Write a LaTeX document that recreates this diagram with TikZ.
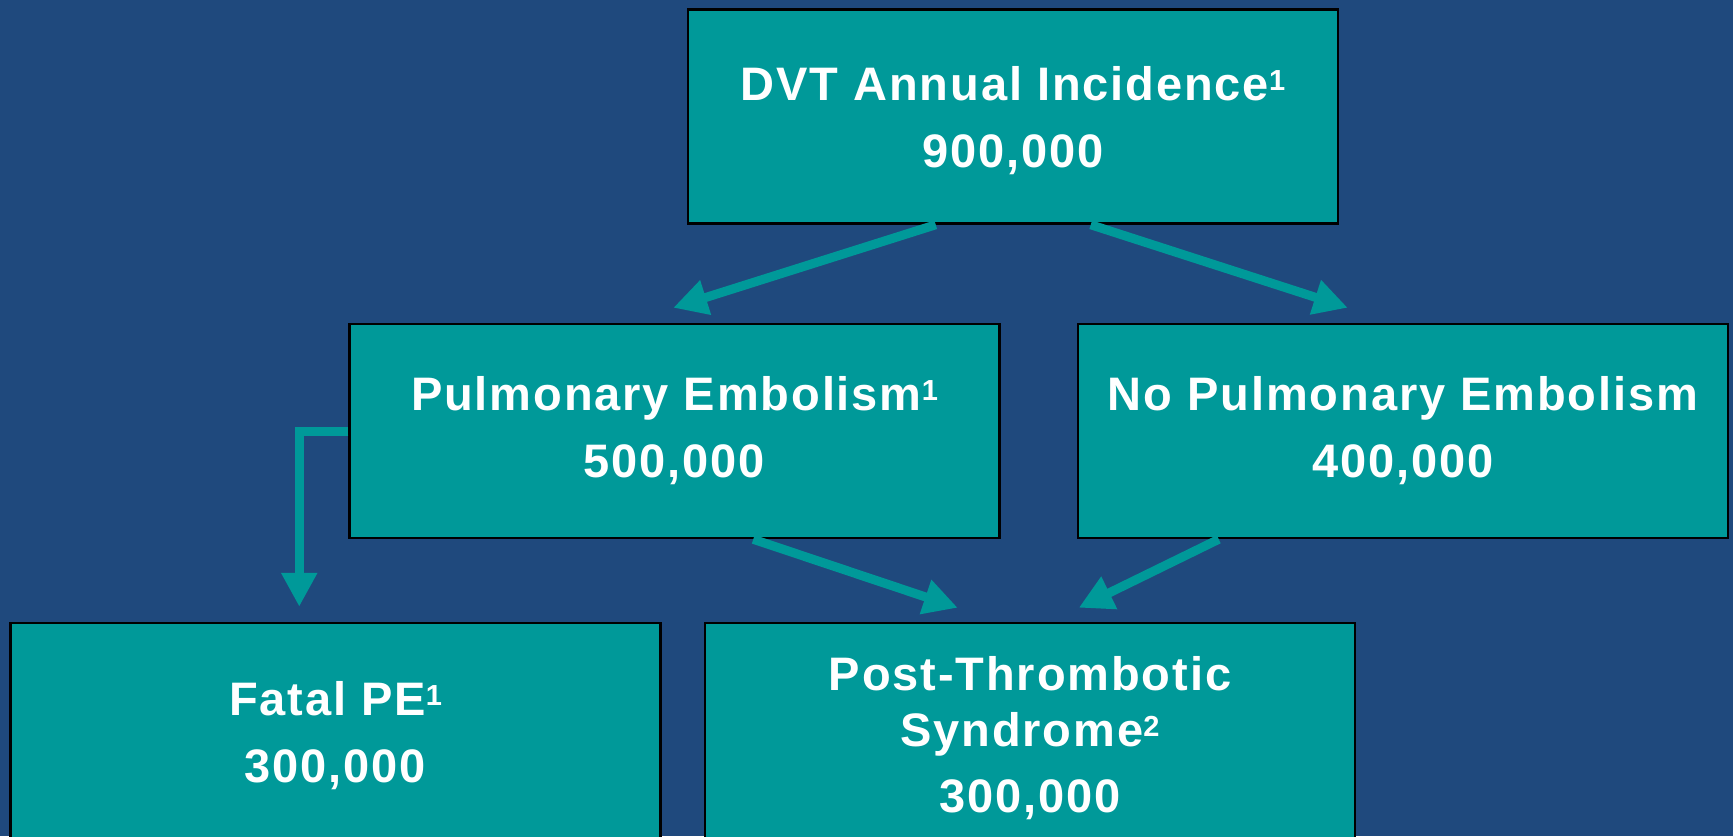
\documentclass[tikz,border=0pt]{standalone}
\usepackage{fontspec}
\setmainfont{Liberation Sans}[LetterSpace=4]
\usetikzlibrary{arrows.meta,calc}
\definecolor{bgblue}{HTML}{1F497D}
\definecolor{boxteal}{HTML}{009999}
\newcommand{\supnum}[1]{\raisebox{10pt}{\fontsize{29}{29}\selectfont #1}}
\begin{document}
\begin{tikzpicture}[x=1pt,y=-1pt,
  box/.style={draw=black, line width=2.5pt, fill=boxteal, text=white,
    inner sep=0pt, align=center, minimum width=650pt, minimum height=214pt,
    font=\fontsize{47}{67}\selectfont\bfseries},
  conn/.style={draw=boxteal, line width=9pt,
    -{Triangle[width=34pt,length=34pt]}}]
\clip (0,0) rectangle (1733,836);
\fill[bgblue] (0,0) rectangle (1733,836);
\node[box] (dvt) at (1013,116.5) {\rule{0pt}{42pt}DVT Annual Incidence\supnum{1}\\900,000};
\node[box] (pe) at (674.5,431) {Pulmonary Embolism\supnum{1}\\500,000};
\node[box] (nope) at (1403,431) {No Pulmonary Embolism\\400,000};
\node[box, minimum height=230pt] (fatal) at (335.5,738) {Fatal PE\supnum{1}\\300,000\rule[-13pt]{0pt}{0pt}};
\node[box, minimum height=230pt, font=\fontsize{47}{56}\selectfont\bfseries] (pts) at (1030,738) {Post-Thrombotic\\Syndrome\supnum{2}\\[10pt]300,000};
\draw[conn] ($(dvt.south west)+(249,0)$) -- ($(pe.north west)+(325,-15)$);
\draw[conn] ($(dvt.south west)+(404,0)$) -- ($(nope.north west)+(271,-15)$);
\draw[conn] ($(pe.south west)+(405,0)$) -- ($(pts.north west)+(254,-14)$);
\draw[conn] ($(nope.south west)+(142,0)$) -- ($(pts.north west)+(375,-14)$);
\draw[conn] ($(pe.north west)+(0,109)$) -| ($(fatal.north west)+(290,-15)$);
\end{tikzpicture}
\end{document}
